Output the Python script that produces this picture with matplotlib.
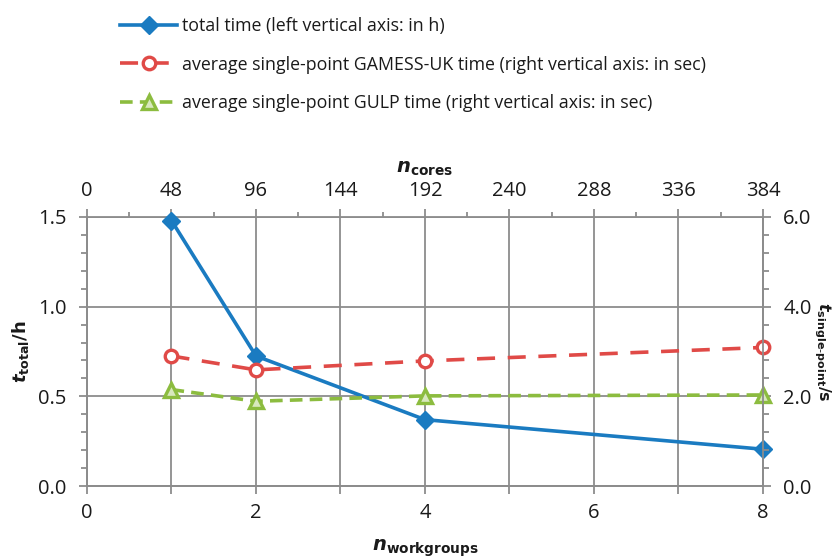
import numpy as np
import matplotlib
matplotlib.use('Agg')
import matplotlib.pyplot as plt
from matplotlib.ticker import MultipleLocator, FixedLocator, FormatStrFormatter

plt.rcParams['font.family'] = ['Open Sans', 'DejaVu Sans']
plt.rcParams['mathtext.fontset'] = 'dejavusans'

#data
#------------------
workgroups = [1, 2, 4, 8]
t_total = [1.48, 0.725, 0.37, 0.205]      # h, left axis
t_gamess = [2.90, 2.59, 2.79, 3.09]       # s, right axis
t_gulp = [2.15, 1.89, 2.01, 2.03]         # s, right axis
cores_per_wg = 48
cores_ticks = [0, 48, 96, 144, 192, 240, 288, 336, 384]

labels = ['total time (left vertical axis: in h)',
          'average single-point GAMESS-UK time (right vertical axis: in sec)',
          'average single-point GULP time (right vertical axis: in sec)']

c_blue = '#1a7bc1'
c_red = '#e04a47'
c_green = '#8cbc3f'
c_grid = '#8c8c8c'
c_text = '#1a1a1a'

#plot
#------------------
fig = plt.figure(figsize=(8.37, 5.58), dpi=100)
ax = fig.add_axes([87/837, 72/558, 676/837, 269/558])
ax2 = ax.twinx()

l1, = ax.plot(workgroups, t_total, color=c_blue, lw=2.6, marker='D', ms=9,
              zorder=5, clip_on=False)
l2, = ax2.plot(workgroups, t_gamess, color=c_red, lw=2.6, ls=(0, (5, 3.5)),
               marker='o', ms=9, mfc='white', mec=c_red, mew=2.4, clip_on=False)
l3, = ax2.plot(workgroups, t_gulp, color=c_green, lw=2.6, ls=(0, (3.5, 2)),
               marker='^', ms=9.5, mfc='#d8e8bd', mec=c_green, mew=2.4,
               clip_on=False)

ax.set_xlim(0, 8)
ax.set_ylim(0, 1.5)
ax2.set_ylim(0, 6)

ax.xaxis.set_major_locator(FixedLocator([0, 2, 4, 6, 8]))
ax.xaxis.set_minor_locator(FixedLocator([1, 3, 5, 7]))
ax.yaxis.set_major_locator(MultipleLocator(0.5))
ax.yaxis.set_minor_locator(MultipleLocator(0.1))
ax.yaxis.set_major_formatter(FormatStrFormatter('%.1f'))
ax2.yaxis.set_major_locator(MultipleLocator(2))
ax2.yaxis.set_minor_locator(MultipleLocator(0.4))
ax2.yaxis.set_major_formatter(FormatStrFormatter('%.1f'))

ax.grid(True, which='both', axis='x', color=c_grid, lw=1.3)
ax.grid(True, which='major', axis='y', color=c_grid, lw=1.3)
ax.set_axisbelow(True)

for a in (ax, ax2):
    for s in a.spines.values():
        s.set_color(c_grid)
        s.set_linewidth(1.3)
    a.tick_params(which='both', color=c_grid, width=1.3, labelsize=14.5,
                  labelcolor=c_text, pad=9)
    a.tick_params(which='major', length=5.5)
    a.tick_params(which='minor', length=4.5)
ax.spines['top'].set_visible(False)
ax2.spines['top'].set_visible(False)
ax.tick_params(axis='x', which='both', length=5.5, pad=7)

# top axis: number of cores
secax = ax.secondary_xaxis('top', functions=(lambda x: x*cores_per_wg,
                                              lambda x: x/cores_per_wg))
secax.xaxis.set_major_locator(FixedLocator(cores_ticks))
secax.xaxis.set_minor_locator(FixedLocator([c + 24 for c in cores_ticks[:-1]]))
secax.spines['top'].set_color(c_grid)
secax.spines['top'].set_linewidth(1.3)
secax.tick_params(which='both', color=c_grid, width=1.3, labelsize=14.5,
                  labelcolor=c_text, pad=6)
secax.tick_params(which='major', length=5.5)
secax.tick_params(which='minor', length=3.5)
secax.set_xlabel(r'$\mathbfit{n}_{\mathbf{cores}}$', fontsize=14, labelpad=6,
                 color=c_text)

ax.set_xlabel(r'$\mathbfit{n}_{\mathbf{workgroups}}$', fontsize=14, labelpad=10,
              color=c_text)
ax.set_ylabel(r'$\mathbfit{t}_{\mathbf{total}}\mathbf{/h}$', fontsize=13,
              color=c_text)
ax.yaxis.set_label_coords(-56/676, 0.5)
ax2.set_ylabel(r'$\mathbfit{t}_{\mathbf{single\text{-}point}}\mathbf{/s}$',
               fontsize=11.5, rotation=270, color=c_text)
ax2.yaxis.set_label_coords(746/676, 0.5)

fig.legend([l1, l2, l3], labels, loc='upper left',
           bbox_to_anchor=(113/837, 1-10/558), frameon=False, fontsize=12.8,
           handlelength=3.2, handletextpad=0.3, labelspacing=1.15,
           borderaxespad=0, labelcolor=c_text)

fig.savefig('out.png', dpi=100)
